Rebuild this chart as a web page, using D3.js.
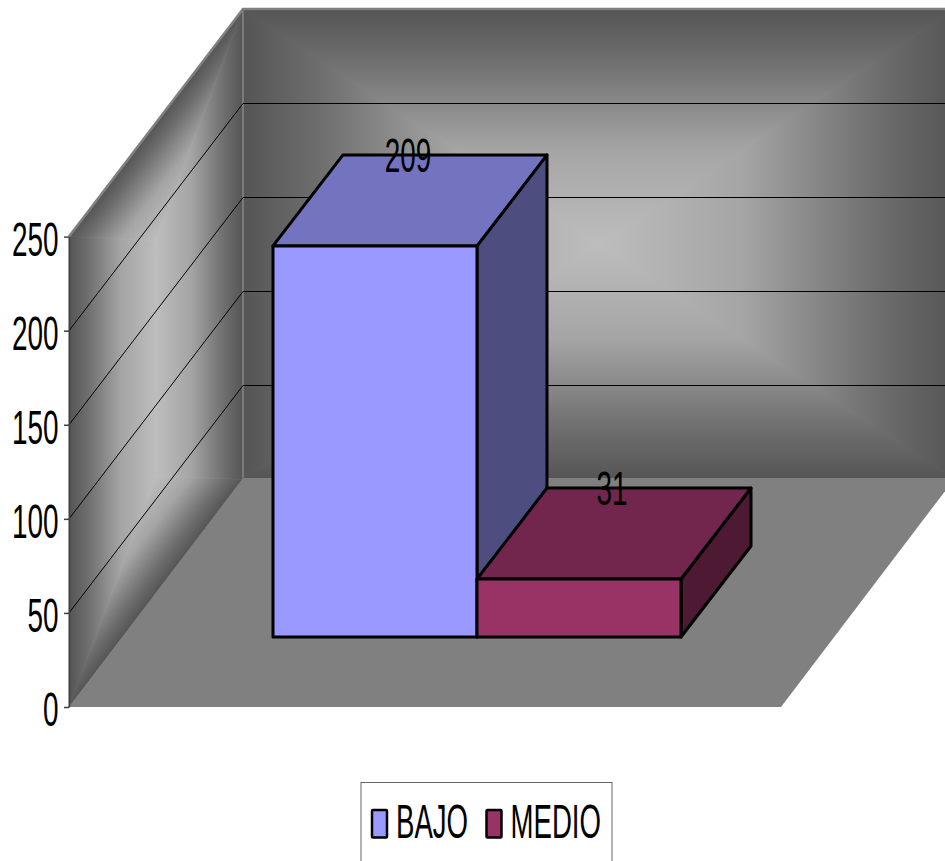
<!DOCTYPE html>
<html>
<head>
<meta charset="utf-8">
<script src="https://cdn.jsdelivr.net/npm/d3@7"></script>
<style>
  html, body { margin: 0; padding: 0; background: #fff; overflow: hidden; }
  text { font-family: "Liberation Sans", Arial, sans-serif; fill: #000; }
</style>
</head>
<body>
<svg id="chart" width="945" height="861"></svg>
<script>
// Chart content
const categories = ["BAJO", "MEDIO"];
const seriesValues = [209, 31];
const axisTicks = [0, 50, 100, 150, 200, 250];
const faceColors = ["#9999ff", "#993366"];
const topColors = ["#7373bf", "#73264d"];
const sideColors = ["#4d4d80", "#4d1933"];
const wallRamp = [[0, "#555555"], [0.2, "#6c6c6c"], [0.6, "#a5a5a5"], [1, "#bdbdbd"]];

const svg = d3.select("#chart");
const defs = svg.append("defs");

// Projection of the box: front plane of the floor and the shift to the back wall
const front = { left: 69, right: 781, bottom: 707 };
const depth = { dx: 174, dy: -227.6 };
const floorRise = -229;
const barDepth = { dx: 70, dy: -91 };
const barBase = 637;

const y = d3.scaleLinear().domain([0, 250]).range([front.bottom, 236.6]);
const yBar = d3.scaleLinear().domain([0, 250]).range([barBase, barBase - 467.8]);
const x = d3.scaleBand().domain(categories).range([273, 681]).paddingInner(0);

const polygon = pts => pts.map(p => p.join(",")).join(" ");

// Linear ramp between the wall rim and its light centre
function ramp(id, x2, y2, reversed) {
  const g = defs.append("linearGradient").attr("id", id)
    .attr("x1", 0).attr("y1", 0).attr("x2", x2).attr("y2", y2);
  const stops = reversed ? wallRamp.map(([o, c]) => [1 - o, c]).reverse() : wallRamp;
  stops.forEach(([o, c]) => g.append("stop").attr("offset", o).attr("stop-color", c));
  return `url(#${id})`;
}

// Rectangular gradient mapped onto a wall: four faces meeting on a central
// vertical segment that reaches `core` of the way in from the top and bottom.
function wallGradient(prefix, matrix, core) {
  const wall = svg.append("g").attr("transform", `matrix(${matrix.join(" ")})`);
  const a = [0.5, core], b = [0.5, 1 - core];
  const faces = [
    [[[0, 0], [1, 0], a], 0, 1, false],
    [[[0, 1], [1, 1], b], 0, 1, true],
    [[[0, 0], [0, 1], b, a], 1, 0, false],
    [[[1, 0], [1, 1], b, a], 1, 0, true]
  ];
  faces.forEach(([pts, gx, gy, rev], i) => {
    const fill = ramp(`${prefix}${i}`, gx, gy, rev);
    wall.append("polygon").attr("points", polygon(pts))
      .attr("fill", fill).attr("stroke", fill).attr("stroke-width", 0.002);
  });
}

// Back wall, running past the right edge of the page
const backX = front.left + depth.dx;
const backBottom = front.bottom + depth.dy;
const backTop = y(250) + depth.dy;
const backRight = front.right + depth.dx;
wallGradient("back", [backRight - backX, 0, 0, backBottom - backTop, backX, backTop], 0.5);

// Left wall, sheared along the depth direction
wallGradient("side", [depth.dx, depth.dy, 0, front.bottom - y(250), front.left, y(250)], 0.25);

// Floor
svg.append("polygon")
  .attr("points", polygon([
    [front.left, front.bottom], [front.right, front.bottom],
    [backRight, front.bottom + floorRise], [backX, front.bottom + floorRise]
  ]))
  .attr("fill", "#808080");

// Light rims of the walls
svg.append("polyline")
  .attr("points", polygon([[front.left, y(250)], [backX, backTop], [backRight, backTop]]))
  .attr("fill", "none").attr("stroke", "#808080").attr("stroke-width", 2.5);
svg.append("line")
  .attr("x1", backX).attr("x2", backX).attr("y1", backTop).attr("y2", front.bottom + floorRise)
  .attr("stroke", "#7a7a7a").attr("stroke-width", 2);

// Gridlines along the left wall and across the back wall, the level part snapped to a pixel row
const gridTicks = axisTicks.filter(t => t > 0 && t < 250);
const grid = svg.append("g").attr("stroke", "#000").attr("stroke-width", 1).attr("fill", "none");
gridTicks.forEach(t => {
  const backY = Math.floor(y(t) + depth.dy) + 0.5;
  grid.append("polyline").attr("points", polygon([
    [front.left, y(t)],
    [backX, backY],
    [backRight, backY]
  ]));
});

// Value axis
const axis = svg.append("g")
  .attr("transform", `translate(${front.left},0)`)
  .call(d3.axisLeft(y).tickValues(axisTicks).tickSize(5).tickSizeOuter(0).tickPadding(6));
axis.select(".domain").attr("stroke", "#404040").attr("stroke-width", 1.5);
axis.selectAll(".tick line").attr("stroke", "#404040").attr("stroke-width", 1.5);
axis.selectAll(".tick text")
  .attr("font-size", 49).attr("dy", 0)
  .attr("text-anchor", "end")
  .attr("x", 0).attr("y", 0)
  .attr("transform", "translate(-10.5,18.5) scale(0.57,1)");
axis.attr("font-family", null);

// Bars: front, top and side faces
const bars = svg.selectAll("g.bar")
  .data(categories.map((c, i) => ({ c, v: seriesValues[i], i })))
  .join("g").attr("class", "bar")
  .attr("stroke", "#000").attr("stroke-width", 3).attr("stroke-linejoin", "round");

bars.each(function (d) {
  const g = d3.select(this);
  const x0 = x(d.c), x1 = x0 + x.bandwidth();
  const yt = yBar(d.v), yb = yBar(0);
  const { dx, dy } = barDepth;
  g.append("polygon").attr("fill", sideColors[d.i])
    .attr("points", polygon([[x1, yt], [x1 + dx, yt + dy], [x1 + dx, yb + dy], [x1, yb]]));
  g.append("polygon").attr("fill", topColors[d.i])
    .attr("points", polygon([[x0, yt], [x0 + dx, yt + dy], [x1 + dx, yt + dy], [x1, yt]]));
  g.append("polygon").attr("fill", faceColors[d.i])
    .attr("points", polygon([[x0, yt], [x1, yt], [x1, yb], [x0, yb]]));
});

// Value labels above the back edge of each bar's top
svg.selectAll("text.value")
  .data(categories.map((c, i) => ({ c, v: seriesValues[i] })))
  .join("text").attr("class", "value")
  .attr("text-anchor", "middle").attr("font-size", 49)
  .attr("transform", d => `translate(${x(d.c) + x.bandwidth() / 2 + barDepth.dx - 37},${yBar(d.v) + barDepth.dy + 17.5}) scale(0.57,1)`)
  .text(d => d.v);

// Legend box, cut off by the bottom of the page
const legend = svg.append("g");
legend.append("rect").attr("x", 361).attr("y", 782.5).attr("width", 251).attr("height", 100)
  .attr("fill", "#fff").attr("stroke", "#666").attr("stroke-width", 1);
const legendX = d3.scaleOrdinal().domain(categories).range([372, 486.5]);
categories.forEach((c, i) => {
  legend.append("rect")
    .attr("x", legendX(c)).attr("y", 810).attr("width", 15).attr("height", 27.5)
    .attr("fill", faceColors[i]).attr("stroke", "#000").attr("stroke-width", 2.5).attr("rx", 1);
  legend.append("text")
    .attr("font-size", 48)
    .attr("transform", `translate(${legendX(c) + 24},${838}) scale(0.575,1)`)
    .text(c);
});
</script>
</body>
</html>
